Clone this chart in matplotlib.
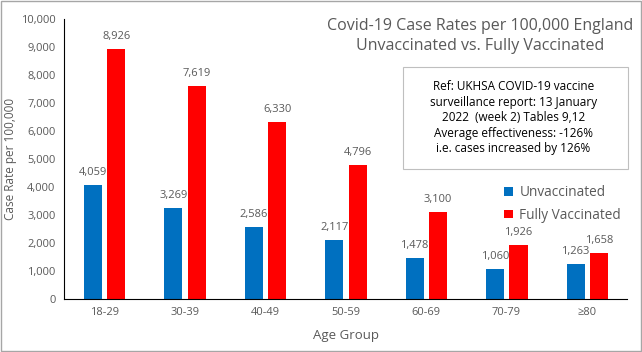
import matplotlib
matplotlib.use("Agg")
import matplotlib.pyplot as plt
from matplotlib.patches import Rectangle
import numpy as np

categories = ["18-29", "30-39", "40-49", "50-59", "60-69", "70-79", "≥80"]
unvaccinated = [4059, 3269, 2586, 2117, 1478, 1060, 1263]
fully_vaccinated = [8926, 7619, 6330, 4796, 3100, 1926, 1658]
yticks = list(range(0, 10001, 1000))

plt.rcParams['font.family'] = ['Open Sans', 'DejaVu Sans']
grey = '#595959'
blue = '#0070C0'
red = '#FF0000'

fig = plt.figure(figsize=(6.42, 3.52), dpi=100)
ax = fig.add_axes([0.0997, 0.1506, 0.877, 0.795])

x = np.arange(len(categories))
w = 0.225
ax.bar(x - 0.14, unvaccinated, w, color=blue, label='Unvaccinated')
ax.bar(x + 0.15, fully_vaccinated, w, color=red, label='Fully Vaccinated')

for xi, v in zip(x - 0.14, unvaccinated):
    ax.text(xi, v + 250, f"{v:,}", ha='center', va='bottom', fontsize=8, color=grey)
for xi, v in zip(x + 0.15, fully_vaccinated):
    ax.text(xi, v + 250, f"{v:,}", ha='center', va='bottom', fontsize=8, color=grey)

ax.set_xlim(-0.5, len(categories) - 0.5)
ax.set_ylim(0, 10000)
ax.set_yticks(yticks)
ax.set_yticklabels([f"{t:,}" for t in yticks], fontsize=8, color=grey)
ax.set_xticks(x)
ax.set_xticklabels(categories, fontsize=8, color=grey)
ax.tick_params(length=0, pad=6)
for s in ['top', 'right']:
    ax.spines[s].set_visible(False)
ax.spines['left'].set_color('black')
ax.spines['bottom'].set_color('black')
ax.set_ylabel("Case Rate per 100,000", fontsize=8.5, color=grey, labelpad=3)
ax.set_xlabel("Age Group", fontsize=9.5, color=grey, labelpad=8)

fig.text(0.748, 0.898, "Covid-19 Case Rates per 100,000 England\nUnvaccinated vs. Fully Vaccinated",
         ha='center', va='center', fontsize=11.5, color=grey, linespacing=1.4)

fig.text(0.8, 0.665, "Ref: UKHSA COVID-19 vaccine\nsurveillance report: 13 January\n2022  (week 2) Tables 9,12\nAverage effectiveness: -126%\ni.e. cases increased by 126%",
         ha='center', va='center', fontsize=8.5, color='black', linespacing=1.25)
fig.patches.append(Rectangle((403/642, 1 - 169/352), 225/642, 102/352,
                             transform=fig.transFigure, fill=False, edgecolor='#BFBFBF', lw=0.8))

ax.legend(loc='upper left', bbox_to_anchor=(0.77, 0.43), frameon=False, fontsize=9.8,
          handlelength=0.6, handleheight=0.6, handletextpad=0.5, labelspacing=0.55,
          labelcolor=grey, borderpad=0)

fig.patches.append(Rectangle((0.001, 0.002), 0.997, 0.995, transform=fig.transFigure,
                             fill=False, edgecolor='#A6A6A6', lw=1))

fig.savefig("out.png", dpi=100)
